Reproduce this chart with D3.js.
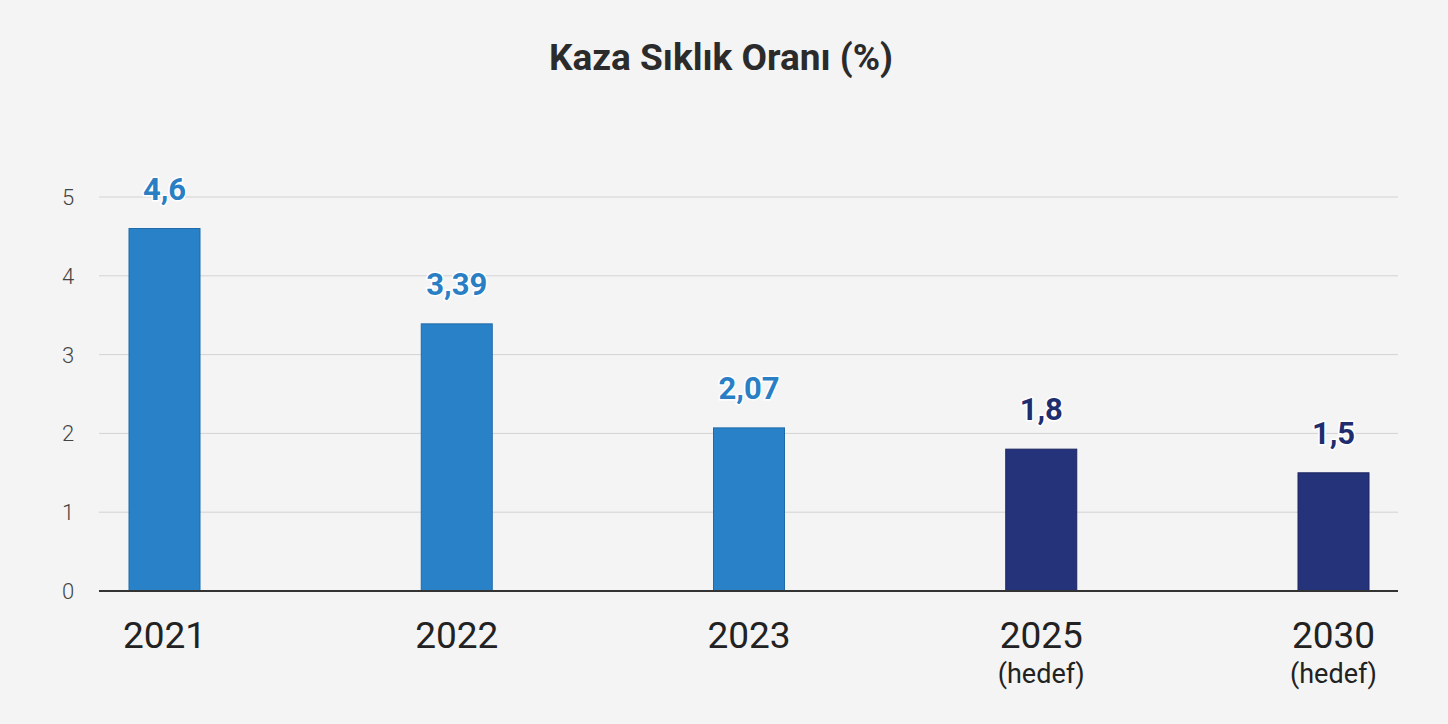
<!DOCTYPE html>
<html>
<head>
<meta charset="utf-8">
<script src="https://cdn.jsdelivr.net/npm/d3@7"></script>
<style>
  body { margin: 0; background: #f4f4f4; }
  svg { display: block; }
</style>
</head>
<body>
<div id="chart"></div>
<script>
// data
var years = ["2021", "2022", "2023", "2025", "2030"];
var subLabels = ["", "", "", "(hedef)", "(hedef)"];
var values = [4.6, 3.39, 2.07, 1.8, 1.5];
var valueLabels = ["4,6", "3,39", "2,07", "1,8", "1,5"];
var isTarget = [false, false, false, true, true];
var yTicks = [0, 1, 2, 3, 4, 5];

var width = 1448, height = 724;
var font = "Roboto, 'Noto Sans', sans-serif";

var svg = d3.select("#chart")
    .append("svg")
    .attr("width", width)
    .attr("height", height);

svg.append("rect")
    .attr("width", width)
    .attr("height", height)
    .attr("fill", "#f4f4f4");

// title
svg.append("text")
    .attr("x", 721)
    .attr("y", 70)
    .attr("text-anchor", "middle")
    .attr("font-family", font)
    .attr("font-size", "37px")
    .attr("font-weight", "bold")
    .attr("fill", "#2b2b2b")
    .text("Kaza Sıklık Oranı (%)");

var x = d3.scalePoint()
    .domain(years)
    .range([164.5, 1333.5]);

var y = d3.scaleLinear()
    .domain([0, 5])
    .range([591, 197]);

// grid lines
svg.append("g")
    .selectAll("line")
    .data(yTicks.filter(function(d) { return d > 0; }))
    .enter()
    .append("line")
    .attr("x1", 99)
    .attr("x2", 1398)
    .attr("y1", function(d) { return y(d); })
    .attr("y2", function(d) { return y(d); })
    .attr("stroke", "#d3d3d3")
    .attr("stroke-width", 1);

// y tick labels
svg.append("g")
    .selectAll("text")
    .data(yTicks)
    .enter()
    .append("text")
    .attr("x", 68)
    .attr("y", function(d) { return y(d) + 8; })
    .attr("text-anchor", "middle")
    .attr("font-family", font)
    .attr("font-size", "22px")
    .attr("font-weight", 300)
    .attr("fill", "#444")
    .text(function(d) { return d; });

var barW = 71;

// bars
svg.append("g")
    .selectAll("rect")
    .data(values)
    .enter()
    .append("rect")
    .attr("x", function(d, i) { return x(years[i]) - barW / 2; })
    .attr("y", function(d) { return y(d); })
    .attr("width", barW)
    .attr("height", function(d) { return y(0) - y(d); })
    .attr("fill", function(d, i) { return isTarget[i] ? "#25337b" : "#2982c8"; })
    .attr("stroke", function(d, i) { return isTarget[i] ? "#1a2560" : "#1f6aa8"; })
    .attr("stroke-width", 1);

// baseline
svg.append("line")
    .attr("x1", 99)
    .attr("x2", 1398)
    .attr("y1", y(0))
    .attr("y2", y(0))
    .attr("stroke", "#333")
    .attr("stroke-width", 2);

// value labels
svg.append("g")
    .selectAll("text")
    .data(values)
    .enter()
    .append("text")
    .attr("x", function(d, i) { return x(years[i]); })
    .attr("y", function(d) { return y(d) - 29; })
    .attr("text-anchor", "middle")
    .attr("font-family", font)
    .attr("font-size", "31px")
    .attr("font-weight", "bold")
    .attr("fill", function(d, i) { return isTarget[i] ? "#1f2d6e" : "#2a7fc4"; })
    .attr("stroke", "#ffffff")
    .attr("stroke-width", 3)
    .attr("paint-order", "stroke")
    .text(function(d, i) { return valueLabels[i]; });

// category labels
var cats = svg.append("g")
    .selectAll("g")
    .data(years)
    .enter()
    .append("g");

cats.append("text")
    .attr("x", function(d) { return x(d); })
    .attr("y", 648)
    .attr("text-anchor", "middle")
    .attr("font-family", font)
    .attr("font-size", "37px")
    .attr("fill", "#222")
    .text(function(d) { return d; });

cats.append("text")
    .attr("x", function(d) { return x(d); })
    .attr("y", 683)
    .attr("text-anchor", "middle")
    .attr("font-family", font)
    .attr("font-size", "27px")
    .attr("fill", "#222")
    .text(function(d, i) { return subLabels[i]; });
</script>
</body>
</html>
